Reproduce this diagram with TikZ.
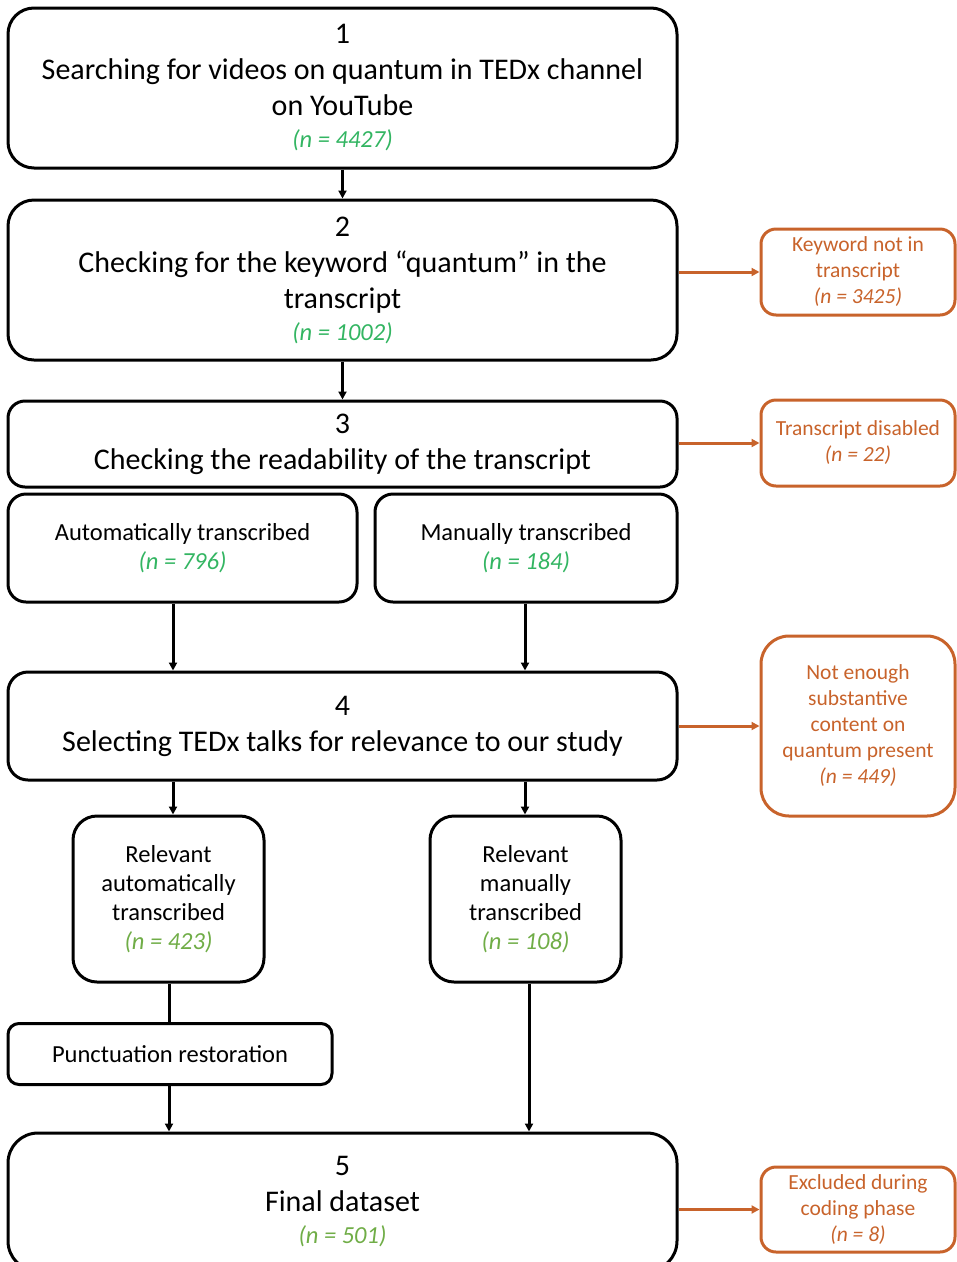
\documentclass[tikz,border=0pt]{standalone}
\usepackage{fontspec}
\setmainfont{Carlito}
\usetikzlibrary{arrows.meta}
\definecolor{gA}{HTML}{33B562}
\definecolor{gB}{HTML}{70AD47}
\definecolor{orng}{HTML}{C8632B}
\newcommand{\nA}[1]{{\fontsize{24.5}{32}\selectfont\itshape\color{gA}#1}}
\newcommand{\nB}[1]{{\fontsize{24.5}{32}\selectfont\itshape\color{gB}#1}}
\newcommand{\nO}[1]{{\itshape #1}}
\begin{document}
\begin{tikzpicture}[x=1pt,y=-1pt,
  bigbox/.style={draw=black,line width=3pt,rounded corners=26pt,align=center,inner sep=0pt,
    font=\fontsize{30}{36}\selectfont},
  midbox/.style={draw=black,line width=3pt,rounded corners=18pt,align=center,inner sep=0pt,
    font=\fontsize{24.5}{29}\selectfont},
  exbox/.style={draw=orng,line width=3pt,rounded corners=15pt,align=center,inner sep=0pt,
    text=orng,minimum width=194pt,font=\fontsize{21.5}{26}\selectfont},
  arr/.style={line width=3pt,-{Triangle[length=8pt,width=8pt]}},
  oarr/.style={draw=orng,line width=3pt,-{Triangle[length=8pt,width=8pt]},color=orng},
  ln/.style={line width=3pt}]
\useasboundingbox (0,0) rectangle (957,1262);
\begin{scope}
\clip (0,0) rectangle (957,1262);
\coordinate (colA) at (173,0);
\coordinate (colB) at (525,0);
\coordinate (colC) at (529,0);
\coordinate (colD) at (169,0);

\node[bigbox,minimum width=669pt,minimum height=160pt] (b1) at (342.5,88)
  {1\\Searching for videos on quantum in TEDx channel\\on YouTube\\[-4pt]\nA{(n = 4427)}};
\node[bigbox,minimum width=669pt,minimum height=160pt] (b2) at (342.5,280)
  {2\\Checking for the keyword “quantum” in the\\transcript\\[-4pt]\nA{(n = 1002)}};
\node[bigbox,rounded corners=17pt,minimum width=669pt,minimum height=86pt] (b3) at (342.5,444)
  {3\\Checking the readability of the transcript};
\node[midbox,minimum width=349pt,minimum height=108pt] (auto) at (182.5,548)
  {Automatically transcribed\\\nA{(n = 796)}};
\node[midbox,minimum width=302pt,minimum height=108pt] (man) at (526,548)
  {Manually transcribed\\\nA{(n = 184)}};
\node[bigbox,rounded corners=20pt,minimum width=669pt,minimum height=108pt] (b4) at (342.5,726)
  {4\\Selecting TEDx talks for relevance to our study};
\node[midbox,rounded corners=24pt,minimum width=191pt,minimum height=166pt] (rauto) at (168.5,899)
  {Relevant\\automatically\\transcribed\\\nB{(n = 423)}};
\node[midbox,rounded corners=24pt,minimum width=191pt,minimum height=166pt] (rman) at (525.5,899)
  {Relevant\\manually\\transcribed\\\nB{(n = 108)}};
\node[midbox,rounded corners=11pt,minimum width=324pt,minimum height=61pt] (punc) at (170,1054)
  {Punctuation restoration};
\node[bigbox,rounded corners=30pt,minimum width=669pt,minimum height=138pt] (b5) at (342.5,1202)
  {5\\Final dataset\\[-4pt]\nB{(n = 501)}};

\node[exbox,minimum height=86pt] (kw) at (858,272)
  {Keyword not in\\transcript\\\nO{(n = 3425)}};
\node[exbox,minimum height=86pt] (dis) at (858,443)
  {Transcript disabled\\\nO{(n = 22)}};
\node[exbox,rounded corners=28pt,minimum height=180pt] (ne) at (858,726)
  {Not enough\\substantive\\content on\\quantum present\\\nO{(n = 449)}};
\node[exbox,minimum height=85pt] (exc) at (858,1209.5)
  {Excluded during\\coding phase\\\nO{(n = 8)}};

\draw[arr] (b1.south) -- (b2.north);
\draw[arr] (b2.south) -- (b3.north);
\draw[arr] (auto.south -| colA) -- (b4.north -| colA);
\draw[arr] (man.south -| colB) -- (b4.north -| colB);
\draw[arr] (b4.south -| colA) -- (rauto.north -| colA);
\draw[arr] (b4.south -| colB) -- (rman.north -| colB);
\draw[ln] (rauto.south -| colD) -- (punc.north -| colD);
\draw[arr] (punc.south -| colD) -- (b5.north -| colD);
\draw[arr] (rman.south -| colC) -- (b5.north -| colC);

\draw[oarr] (b2.east |- kw.west) -- (kw.west);
\draw[oarr] (b3.east |- dis.west) -- (dis.west);
\draw[oarr] (b4.east |- ne.west) -- (ne.west);
\draw[oarr] (b5.east |- exc.west) -- (exc.west);
\end{scope}
\end{tikzpicture}
\end{document}
